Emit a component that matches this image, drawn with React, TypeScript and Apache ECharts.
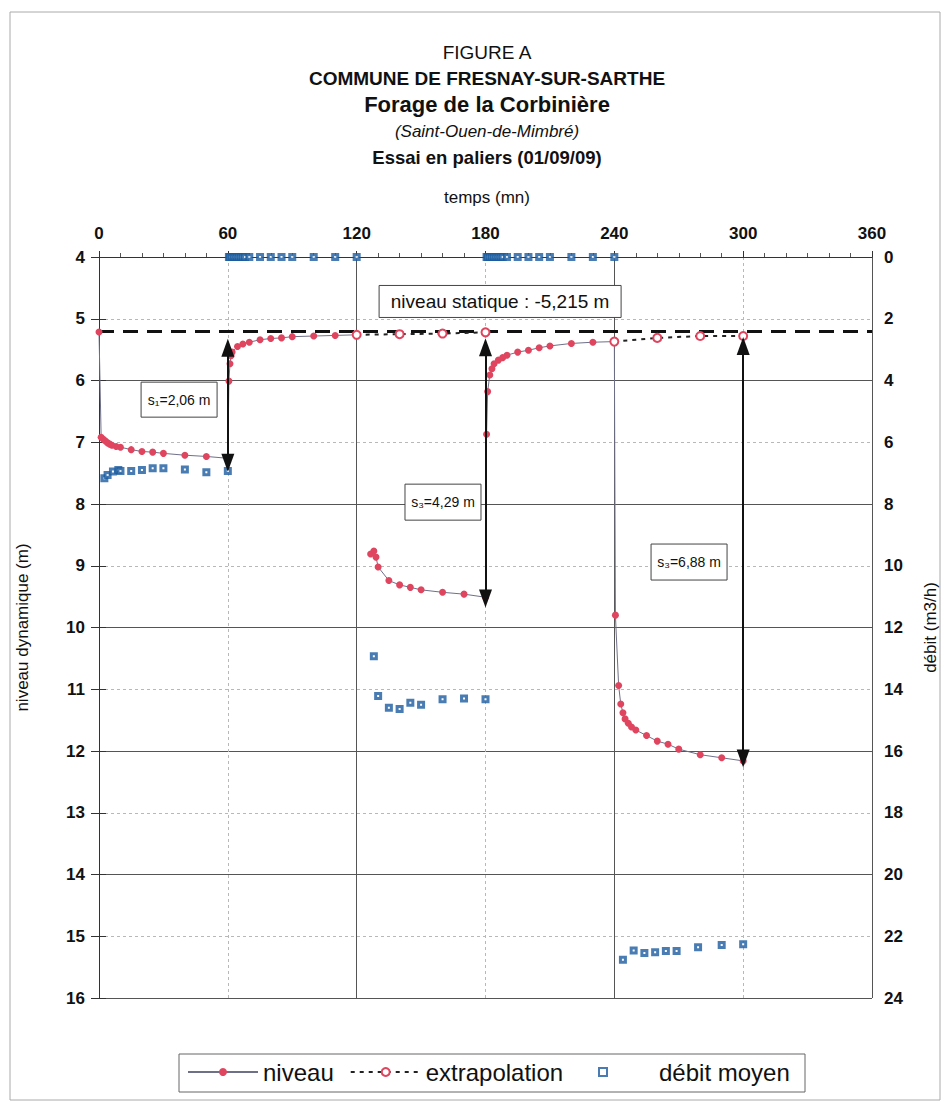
import { useEffect, useRef } from "react";
import * as echarts from "echarts";

// ---------- data (temps en mn, niveau en m, débit en m3/h) ----------
const niveauStatique = 5.215;

const palier1Temps = [0, 1, 2, 3, 4, 5, 6, 8, 10, 15, 20, 25, 30, 40, 50, 60];
const palier1Niveau = [5.215, 6.92, 6.95, 6.98, 7.01, 7.03, 7.05, 7.07, 7.08, 7.12, 7.15, 7.16, 7.18, 7.21, 7.23, 7.26];

const remontee1Temps = [60.5, 61, 61.5, 62, 64.5, 67, 70, 75, 80, 85, 90, 100, 110, 120];
const remontee1Niveau = [6.01, 5.73, 5.6, 5.54, 5.45, 5.41, 5.38, 5.34, 5.32, 5.31, 5.29, 5.28, 5.27, 5.26];

const palier2Temps = [126.5, 128, 129, 130, 135, 140, 145, 150, 160, 170, 180];
const palier2Niveau = [8.81, 8.76, 8.86, 9.02, 9.24, 9.31, 9.35, 9.39, 9.43, 9.46, 9.51];

const remontee2Temps = [180.5, 181, 182, 183, 184, 186, 188, 190, 195, 200, 205, 210, 220, 230, 240];
const remontee2Niveau = [6.87, 6.18, 5.91, 5.81, 5.73, 5.67, 5.63, 5.59, 5.54, 5.51, 5.47, 5.44, 5.4, 5.38, 5.37];

const palier3Temps = [240.5, 242, 243, 244, 245, 246.5, 248, 250, 255, 260, 265, 270, 280, 290, 300];
const palier3Niveau = [9.8, 10.94, 11.24, 11.38, 11.48, 11.55, 11.61, 11.66, 11.75, 11.84, 11.89, 11.97, 12.06, 12.11, 12.16];

const extrap1Temps = [120, 140, 160, 180];
const extrap1Niveau = [5.26, 5.25, 5.24, 5.22];
const extrap2Temps = [240, 260, 280, 300];
const extrap2Niveau = [5.37, 5.31, 5.28, 5.28];

const debit1Temps = [2.5, 4, 6.5, 9, 10, 15, 20, 25, 30, 40, 50, 60];
const debit1Valeurs = [7.17, 7.06, 6.95, 6.9, 6.93, 6.93, 6.9, 6.84, 6.84, 6.88, 6.97, 6.93];
const arret1Temps = [60.5, 61, 62, 63, 64, 65, 66, 67, 68, 70, 75, 80, 85, 90, 100, 110, 120];
const arret1Valeurs = [0, 0, 0, 0, 0, 0, 0, 0, 0, 0, 0, 0, 0, 0, 0, 0, 0];
const debit2Temps = [128, 130, 135, 140, 145, 150, 160, 170, 180];
const debit2Valeurs = [12.93, 14.22, 14.6, 14.64, 14.44, 14.5, 14.32, 14.3, 14.32];
const arret2Temps = [180.5, 181, 182, 183, 184, 185, 186, 187, 188, 190, 195, 200, 205, 210, 220, 230, 240];
const arret2Valeurs = [0, 0, 0, 0, 0, 0, 0, 0, 0, 0, 0, 0, 0, 0, 0, 0, 0];
const debit3Temps = [244, 249, 254, 259, 264, 269, 279, 290, 300];
const debit3Valeurs = [22.76, 22.46, 22.54, 22.52, 22.48, 22.48, 22.36, 22.28, 22.26];

// rabattements : temps, niveau haut (extrapolé), niveau bas (fin de palier)
const rabTemps = [60, 180, 300];
const rabHaut = [5.47, 5.46, 5.44];
const rabBas = [7.33, 9.53, 12.12];
const rabLabels = ["s\u2081=2,06 m", "s\u2083=4,29 m", "s\u2083=6,88 m"];

const titreLignes = [
  "FIGURE A",
  "COMMUNE DE FRESNAY-SUR-SARTHE",
  "Forage de la Corbinière",
  "(Saint-Ouen-de-Mimbré)",
  "Essai en paliers (01/09/09)",
];

// ---------- layout ----------
const FONT = "'Liberation Sans', Arial, Helvetica, sans-serif";
const RED = "#e0455f";
const BLUE = "#1a5b9f";

const pairs = (t: number[], v: number[]) => t.map((x, i) => [x, v[i]]);

export default function App() {
  const ref = useRef<HTMLDivElement>(null);

  useEffect(() => {
    const chart = echarts.init(ref.current!, null, { renderer: "svg" });

    const niveauData: any[] = [
      ...pairs(palier1Temps, palier1Niveau),
      ...pairs(remontee1Temps, remontee1Niveau),
      [123, null],
      ...pairs(palier2Temps, palier2Niveau),
      ...pairs(remontee2Temps, remontee2Niveau),
      ...pairs(palier3Temps, palier3Niveau),
    ];
    const extrapData: any[] = [
      ...pairs(extrap1Temps, extrap1Niveau),
      [210, null],
      ...pairs(extrap2Temps, extrap2Niveau),
    ];
    const debitData = [
      ...pairs(debit1Temps, debit1Valeurs),
      ...pairs(arret1Temps, arret1Valeurs),
      ...pairs(debit2Temps, debit2Valeurs),
      ...pairs(arret2Temps, arret2Valeurs),
      ...pairs(debit3Temps, debit3Valeurs),
    ];

    const arrowLines = rabTemps.map((t, i) => [
      { coord: [t, rabHaut[i]] },
      { coord: [t, rabBas[i]] },
    ]);

    const titleSizes = [19, 19, 22, 17, 18.5];
    const titleWeights = ["normal", "bold", "bold", "normal", "bold"];
    const titleStyles = ["normal", "normal", "normal", "italic", "normal"];
    const titleY = [52, 78, 104, 131, 157];

    const titleGraphics = titreLignes.map((txt, i) => ({
      type: "text",
      x: 487,
      y: titleY[i],
      style: {
        text: txt,
        fontSize: titleSizes[i],
        fontWeight: titleWeights[i],
        fontStyle: titleStyles[i],
        fontFamily: FONT,
        fill: "#111",
        align: "center",
        verticalAlign: "middle",
      },
    }));

    const legendText = { fontSize: 24, color: "#111", fontFamily: FONT };

    const option: any = {
      animation: false,
      backgroundColor: "#fff",
      textStyle: { fontFamily: FONT },
      grid: { left: 99, top: 257, width: 773, height: 741 },
      legend: [
        {
          left: 187,
          top: 1060,
          padding: 0,
          itemGap: 16,
          itemWidth: 70,
          itemHeight: 10,
          textStyle: legendText,
          data: [{ name: "niveau" }, { name: "extrapolation" }],
        },
        {
          left: 598,
          top: 1060,
          padding: 0,
          itemWidth: 8,
          itemHeight: 8,
          textStyle: { ...legendText, padding: [0, 0, 0, 47] },
          data: [{ name: "débit moyen", icon: "rect" }],
        },
      ],
      xAxis: [
        {
          type: "value",
          position: "top",
          min: 0,
          max: 360,
          interval: 60,
          axisLine: { show: true, lineStyle: { color: "#333", width: 1 } },
          axisTick: { show: true, length: 6, lineStyle: { color: "#333" } },
          minorTick: { show: true, splitNumber: 6, length: 4, lineStyle: { color: "#555" } },
          axisLabel: { fontSize: 17, fontWeight: "bold", color: "#111", margin: 15, fontFamily: FONT },
          splitLine: { show: true, lineStyle: { color: "#b8b8b8", type: [3, 3], width: 1 } },
        },
        {
          type: "value",
          position: "bottom",
          min: 0,
          max: 360,
          interval: 120,
          axisLine: { show: false },
          axisTick: { show: false },
          axisLabel: { show: false },
          splitLine: { show: true, lineStyle: { color: "#555", width: 1 } },
        },
      ],
      yAxis: [
        {
          type: "value",
          position: "left",
          min: 4,
          max: 16,
          interval: 1,
          inverse: true,
          name: "niveau dynamique (m)",
          nameLocation: "middle",
          nameRotate: 90,
          nameGap: 68,
          nameTextStyle: { fontSize: 17, color: "#111", fontFamily: FONT },
          axisLine: { show: true, lineStyle: { color: "#333" } },
          axisTick: { show: true, length: 8, lineStyle: { color: "#333" } },
          axisLabel: { fontSize: 17, fontWeight: "bold", color: "#111", margin: 14, fontFamily: FONT },
          splitLine: { show: true, lineStyle: { color: "#b8b8b8", type: [3, 3], width: 1 } },
        },
        {
          type: "value",
          position: "right",
          min: 0,
          max: 24,
          interval: 2,
          inverse: true,
          name: "débit (m3/h)",
          nameLocation: "middle",
          nameRotate: 90,
          nameGap: 50,
          nameTextStyle: { fontSize: 17, color: "#111", fontFamily: FONT },
          axisLine: { show: true, lineStyle: { color: "#333" } },
          axisTick: { show: true, length: 7, lineStyle: { color: "#333" } },
          axisLabel: { fontSize: 17, fontWeight: "bold", color: "#111", margin: 12, fontFamily: FONT },
          splitLine: { show: false },
        },
        {
          type: "value",
          position: "left",
          min: 4,
          max: 16,
          interval: 2,
          inverse: true,
          axisLine: { show: false },
          axisTick: { show: false },
          axisLabel: { show: false },
          splitLine: { show: true, lineStyle: { color: "#555", width: 1 } },
        },
      ],
      series: [
        {
          name: "niveau",
          type: "line",
          xAxisIndex: 0,
          yAxisIndex: 0,
          data: niveauData,
          connectNulls: false,
          symbol: "circle",
          symbolSize: 7,
          showSymbol: true,
          itemStyle: { color: RED },
          lineStyle: { color: "#6e7088", width: 1 },
          z: 3,
          markLine: {
            silent: true,
            animation: false,
            symbol: ["triangle", "triangle"],
            symbolSize: [13, 18],
            label: { show: false },
            lineStyle: { color: "#111", width: 2, type: "solid" },
            data: arrowLines,
          },
        },
        {
          name: "extrapolation",
          type: "line",
          xAxisIndex: 0,
          yAxisIndex: 0,
          data: extrapData,
          connectNulls: false,
          symbol: "circle",
          symbolSize: 8,
          showSymbol: true,
          itemStyle: { color: "#fff", borderColor: RED, borderWidth: 2 },
          lineStyle: { color: "#222", width: 2, type: [4, 5] },
          z: 4,
          markLine: {
            silent: true,
            animation: false,
            symbol: "none",
            label: { show: false },
            lineStyle: { color: "#111", width: 3, type: [15, 9] },
            data: [{ yAxis: niveauStatique }],
            z: 2,
          },
        },
        {
          name: "débit moyen",
          type: "scatter",
          xAxisIndex: 0,
          yAxisIndex: 1,
          data: debitData,
          symbol: "rect",
          symbolSize: 5,
          itemStyle: { color: "#fff", borderColor: BLUE, borderWidth: 3 },
          z: 4,
        },
      ],
      graphic: [
        {
          type: "rect",
          shape: { x: 10, y: 12, width: 930, height: 1088 },
          style: { fill: "none", stroke: "#aaa", lineWidth: 1 },
          silent: true,
        },
        {
          type: "rect",
          shape: { x: 179, y: 1054, width: 626, height: 38 },
          style: { fill: "none", stroke: "#666", lineWidth: 1 },
          silent: true,
        },
        ...titleGraphics,
        {
          type: "text",
          x: 487,
          y: 197,
          style: {
            text: "temps (mn)",
            fontSize: 17,
            fontFamily: FONT,
            fill: "#111",
            align: "center",
            verticalAlign: "middle",
          },
        },
      ],
    };

    chart.setOption(option);

    // annotation boxes anchored in data coordinates
    const toPx = (t: number, l: number) =>
      chart.convertToPixel({ xAxisIndex: 0, yAxisIndex: 0 }, [t, l]) as number[];

    const boxAnchors = [
      { t: 37.3, l: 6.31, w: 76, h: 35, text: rabLabels[0], size: 14 },
      { t: 160.2, l: 7.97, w: 76, h: 36, text: rabLabels[1], size: 14 },
      { t: 274.8, l: 8.94, w: 76, h: 36, text: rabLabels[2], size: 14 },
      {
        t: 186.8,
        l: 4.72,
        w: 242,
        h: 32,
        text: "niveau statique : -" + niveauStatique.toFixed(3).replace(".", ",") + " m",
        size: 19,
      },
    ];

    const boxes: any[] = [];
    boxAnchors.forEach((b) => {
      const [px, py] = toPx(b.t, b.l);
      boxes.push({
        type: "rect",
        shape: { x: px - b.w / 2, y: py - b.h / 2, width: b.w, height: b.h },
        style: { fill: "#fff", stroke: "#444", lineWidth: 1 },
        z: 10,
      });
      boxes.push({
        type: "text",
        x: px,
        y: py,
        z: 11,
        style: {
          text: b.text,
          fontSize: b.size,
          fontFamily: FONT,
          fill: "#111",
          align: "center",
          verticalAlign: "middle",
        },
      });
    });

    chart.setOption({ graphic: [...option.graphic, ...boxes] });

    return () => chart.dispose();
  }, []);

  return (
    <div
      ref={ref}
      style={{ position: "fixed", left: 0, top: 0, width: 947, height: 1104, background: "#fff" }}
    />
  );
}
